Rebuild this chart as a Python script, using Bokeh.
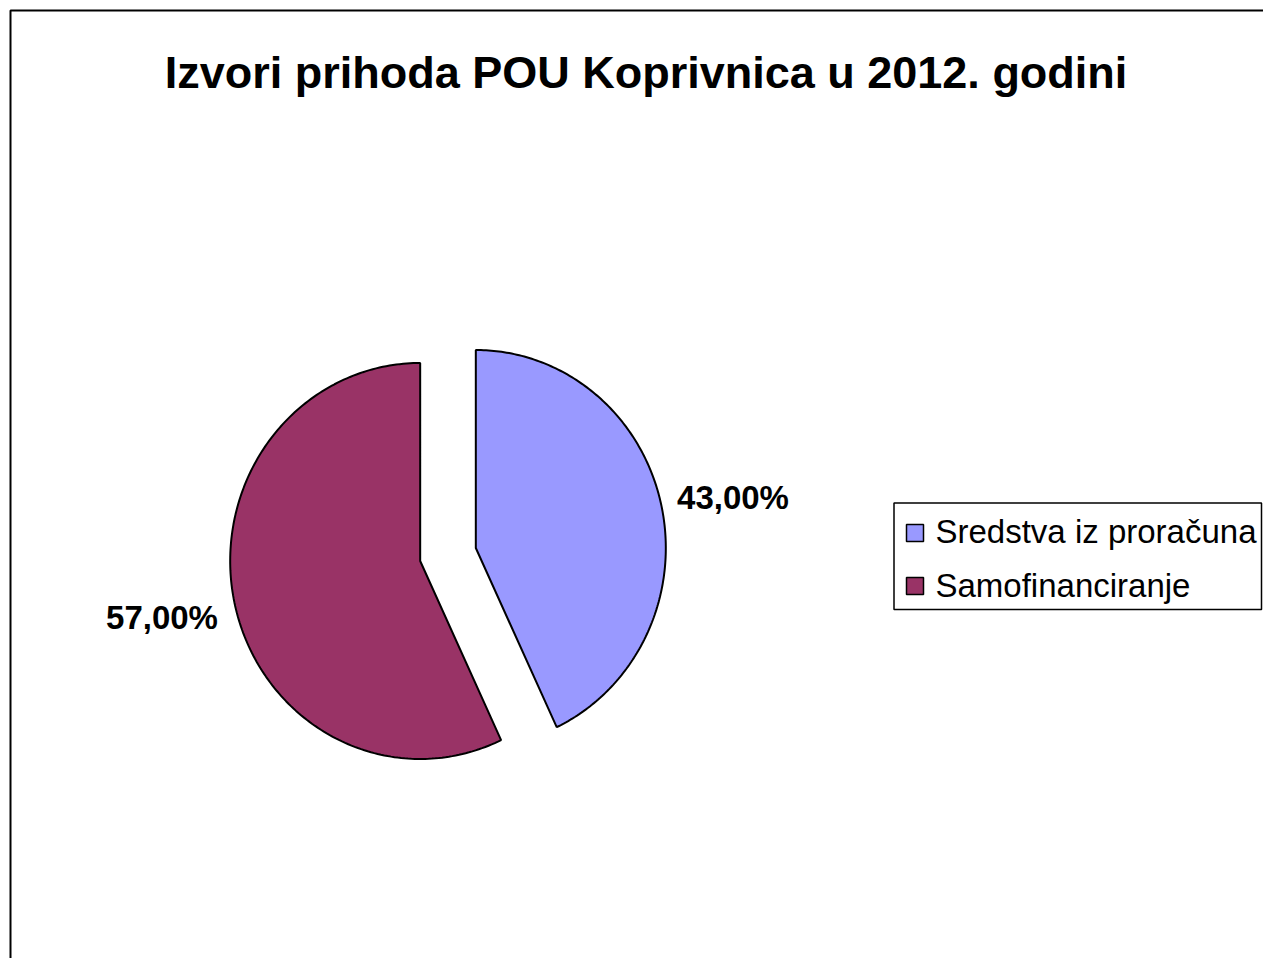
import numpy as np
from bokeh.plotting import figure
from bokeh.models import Range1d, ColumnDataSource
from bokeh.core.properties import value
from bokeh.embed import file_html
from bokeh.resources import INLINE

# ---- data ----
title_text = "Izvori prihoda POU Koprivnica u 2012. godini"
categories = ["Sredstva iz proračuna", "Samofinanciranje"]
shares = [43.0, 57.0]
colors = ["#9999FF", "#993366"]
labels = ["43,00%", "57,00%"]

W, H = 1263, 958
FONT = "Liberation Sans"

p = figure(width=W, height=H, output_backend="svg", toolbar_location=None,
           x_range=Range1d(0, W), y_range=Range1d(H, 0),
           min_border=0, outline_line_color=None)
p.axis.visible = False
p.grid.visible = False
p.background_fill_color = "white"
p.border_fill_color = "white"

# chart border (left and top visible; rest runs off the page)
p.line([10, 10, W + 5], [H + 5, 10, 10], line_color="black", line_width=2)

# title
p.text(x=[645.5], y=[72], text=[title_text], text_align="center",
       text_baseline="alphabetic", text_font=value(FONT), text_font_style="bold",
       text_font_size="45px", text_color="black")

# ---- pie (exploded, slightly elliptical) ----
cx, cy = 447.5, 554.0
rx, ry = 190.0, 198.0
explode = 0.15
total = sum(shares)
fracs = np.array(shares) / total
starts = np.concatenate([[0], np.cumsum(fracs)[:-1]]) * 2 * np.pi
ends = np.cumsum(fracs) * 2 * np.pi

xs, ys = [], []
for s, e in zip(starts, ends):
    mid = (s + e) / 2
    ox = cx + rx * explode * np.sin(mid)
    oy = cy - ry * explode * np.cos(mid)
    th = np.linspace(s, e, 200)
    px = np.concatenate([[ox], ox + rx * np.sin(th)])
    py = np.concatenate([[oy], oy - ry * np.cos(th)])
    xs.append(list(px))
    ys.append(list(py))

src = ColumnDataSource(dict(xs=xs, ys=ys, color=colors, name=categories))
p.patches("xs", "ys", source=src, fill_color="color", line_color="black",
          line_width=2)

# data labels
lab_x = [732.5, 161.5]
lab_y = [497, 617]
p.text(x=lab_x, y=lab_y, text=labels, text_align="center", text_baseline="alphabetic",
       text_font=value(FONT), text_font_style="bold", text_font_size="33px",
       text_color="black")

# ---- legend (drawn manually) ----
p.quad(left=[893.5], right=[1261], top=[502.5], bottom=[609], fill_color="white",
       line_color="black", line_width=1.5)
leg_y = [532.5, 585.5]
p.rect(x=[914.5] * 2, y=leg_y, width=17, height=17, fill_color=colors,
       line_color="black", line_width=1.5)
p.text(x=[935] * 2, y=[531, 584.5], text=categories, text_align="left",
       text_baseline="alphabetic", text_font=value(FONT), text_font_size="33px",
       text_color="black")

open("out.html", "w").write(file_html(p, INLINE))
